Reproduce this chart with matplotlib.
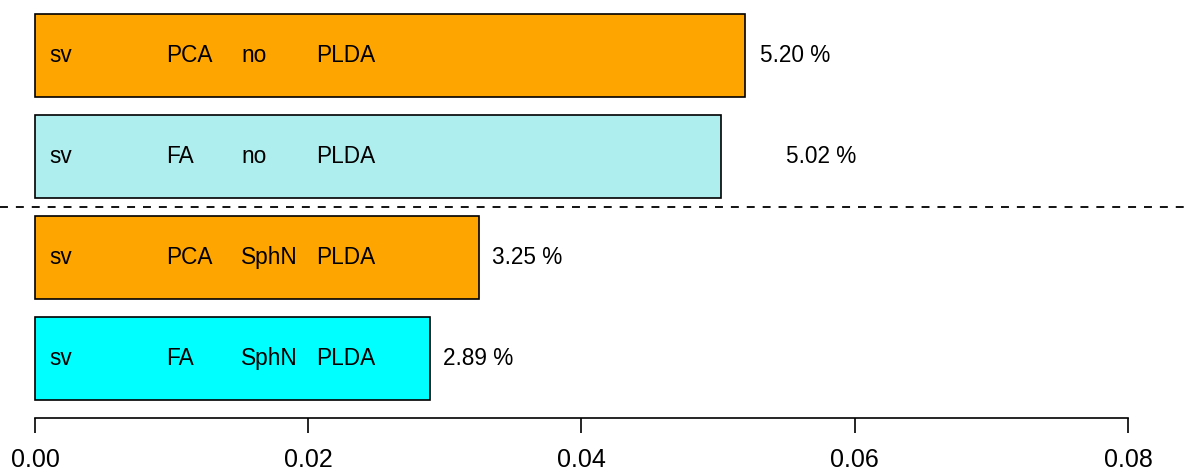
import numpy as np
import matplotlib.pyplot as plt

plt.rcParams['font.family'] = ['Liberation Sans', 'DejaVu Sans']

# bars listed bottom to top
values = [0.0289, 0.0325, 0.0502, 0.0520]
labels = ['2.89 %', '3.25 %', '5.02 %', '5.20 %']
colors = ['#00FFFF', '#FFA500', '#AFEEEE', '#FFA500']
col_sv = ['sv', 'sv', 'sv', 'sv']
col_proj = ['FA', 'PCA', 'FA', 'PCA']
col_norm = ['SphN', 'SphN', 'no', 'no']
col_back = ['PLDA', 'PLDA', 'PLDA', 'PLDA']
label_x = [0.02986, 0.03345, 0.05497, 0.05307]
col_x = [0.00102, 0.00959, 0.01508, 0.02057]
ticks = [0.00, 0.02, 0.04, 0.06, 0.08]

fig = plt.figure(figsize=(11.85, 4.76), dpi=100)
ax = fig.add_axes([0, 58 / 476, 1, 418 / 476])

pos = np.arange(1, len(values) + 1)
ax.barh(pos, values, height=0.83, color=colors, edgecolor='black', linewidth=1.2)

for i, p in enumerate(pos):
    for cx, txt in zip(col_x, [col_sv[i], col_proj[i], col_norm[i], col_back[i]]):
        ax.text(cx, p, txt, va='center', ha='left', fontsize=16.3)
    ax.text(label_x[i], p, labels[i], va='center', ha='left', fontsize=16.3)

# separator between the two groups
ax.axhline(2.5, color='black', linestyle=(0, (4.4, 4.4)), linewidth=1.3)

ax.set_xlim(-35 / 13662, 1150 / 13662)
ax.set_ylim(0.411, 0.411 + 418 / 101)

for s in ['top', 'right', 'left']:
    ax.spines[s].set_visible(False)
ax.spines['bottom'].set_bounds(0, 0.08)
ax.spines['bottom'].set_linewidth(1.2)
ax.set_xticks(ticks)
ax.set_xticklabels(['%.2f' % t for t in ticks], fontsize=18)
ax.tick_params(axis='x', length=10.5, width=1.2, pad=11)
ax.set_yticks([])
ax.patch.set_visible(False)

plt.savefig('out.png', dpi=100)
